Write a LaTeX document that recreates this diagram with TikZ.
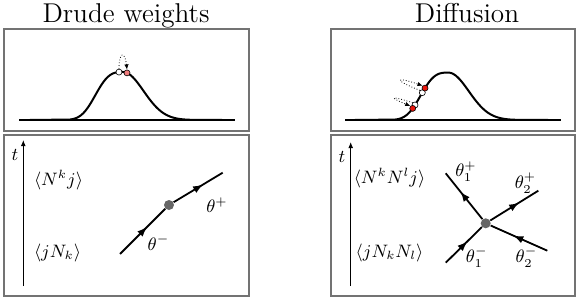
\documentclass[tikz,border=0pt]{standalone}
\usepackage{amsmath,amssymb}
\usepackage{tikz}
\usetikzlibrary{arrows.meta,decorations.markings}
\definecolor{pinkdot}{RGB}{240,125,125}
\definecolor{reddot}{RGB}{232,22,12}

\begin{document}
\begin{tikzpicture}[x=0.5pt, y=-0.5pt,
  panel/.style={draw=black!55, line width=0.75pt},
  ttl/.style={font=\fontsize{13.6}{16}\selectfont, anchor=base},
  lbl/.style={font=\fontsize{9.2}{11}\selectfont, inner sep=0pt},
  gcurve/.style={line width=1pt},
  gline/.style={line width=0.7pt},
  tax/.style={-{Latex[length=3pt,width=2.4pt]}, line width=0.5pt},
  pdot/.style={circle, draw=black, line width=0.3pt, minimum size=3pt, inner sep=0pt},
  vdot/.style={circle, fill=black!60, minimum size=5pt, inner sep=0pt},
  hop/.style={densely dotted, line width=0.4pt, -{Latex[length=2.6pt,width=2.2pt]}},
  leg/.style={line width=0.9pt, postaction={decorate},
    decoration={markings, mark=at position 0.6 with {\arrow{Latex[length=5pt,width=3.8pt]}}}}]
\useasboundingbox (0,0) rectangle (581,304);

% Drude weights
\node[ttl] (ttlL) at (126,23) {Drude weights};
\draw[panel] (4,29) rectangle (249,131);
\draw[panel] (4,135) rectangle (249,296);
\draw[gline] (19,120) -- (235,120);
\draw[gcurve] (30,120) -- plot[domain=70:123, samples=40] (\x,{120-48*exp(-((123-\x)/31.8)^3)})
  -- plot[domain=123:215, samples=50] (\x,{120-48*exp(-((\x-123)^2)/840)}) -- (222,120);
\node[pdot, fill=white] (wL) at (119,72.1) {};
\node[pdot, fill=pinkdot] (pL) at (127,72.9) {};
\draw[hop] (wL.north) .. controls (119,51) and (125,51) .. (pL.north);

\coordinate (tL0) at (23.3,286);
\coordinate (tL1) at (23.3,140);
\draw[tax] (tL0) -- (tL1);
\node[lbl] (tL) at (15,155) {$t$};
\node[lbl] (outL) at (58.5,180) {$\langle N^k j\rangle$};
\node[lbl] (inL) at (57.5,253) {$\langle jN_k\rangle$};
\node[vdot] (vL) at (169,205) {};
\coordinate (aL) at (120,254);
\coordinate (bL) at (222.7,172.7);
\draw[leg] (aL) -- (vL);
\draw[leg] (vL) -- (bL);
\node[lbl] (thmL) at (158.5,242.5) {$\theta^-$};
\node[lbl] (thpL) at (217,205) {$\theta^+$};

% Diffusion
\node[ttl] (ttlR) at (467,23) {Diffusion};
\draw[panel] (331,29) rectangle (575,131);
\draw[panel] (331,135) rectangle (575,296);
\draw[gline] (345,120) -- (561,120);
\draw[gcurve] (355,120) -- plot[domain=395:448.3, samples=40] (\x,{120-47.4*exp(-((448.3-\x)/31.8)^3)})
  -- plot[domain=448.3:540, samples=50] (\x,{120-47.4*exp(-((\x-448.3)^2)/840)}) -- (548,120);
\node[pdot, fill=white] (w1) at (422.3,92.7) {};
\node[pdot, fill=reddot] (r1) at (425,88.1) {};
\node[pdot, fill=white] (w2) at (415,105) {};
\node[pdot, fill=reddot] (r2) at (412.7,108.4) {};
\draw[hop] (w1.north west) .. controls (393,80) and (395,76) .. (r1.north west);
\draw[hop] (w2.north west) .. controls (388,95) and (390,97.5) .. (r2.north west);

\coordinate (tR0) at (350.7,286);
\coordinate (tR1) at (350.7,142);
\draw[tax] (tR0) -- (tR1);
\node[lbl] (tR) at (342,157) {$t$};
\node[lbl] (outR) at (389.5,178) {$\langle N^kN^l j\rangle$};
\node[lbl] (inR) at (389.5,253) {$\langle jN_kN_l\rangle$};
\node[vdot] (vR) at (485.7,223.3) {};
\coordinate (a1) at (445.7,262.7);
\coordinate (a2) at (547.3,250.7);
\coordinate (b1) at (445.7,173.3);
\coordinate (b2) at (538.3,190.7);
\draw[leg] (a1) -- (vR);
\draw[leg] (a2) -- (vR);
\draw[leg] (vR) -- (b1);
\draw[leg] (vR) -- (b2);
\node[lbl] (thp1) at (466,171.5) {$\theta_1^+$};
\node[lbl] (thp2) at (525.5,183) {$\theta_2^+$};
\node[lbl] (thm1) at (476.7,257) {$\theta_1^-$};
\node[lbl] (thm2) at (526.5,257) {$\theta_2^-$};
\end{tikzpicture}
\end{document}
